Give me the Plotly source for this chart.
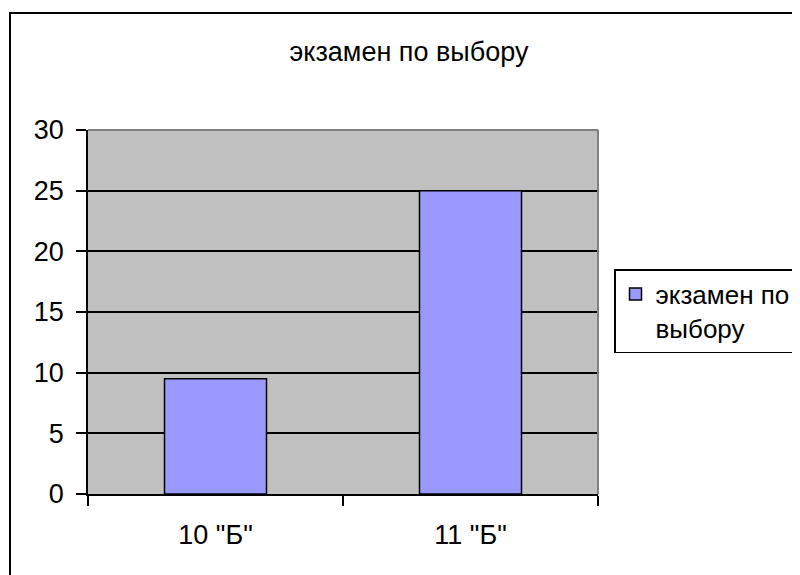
import plotly.graph_objects as go

categories = ['10 "Б"', '11 "Б"']
values = [9.5, 25]
series_name = "экзамен по<br>выбору"
title_text = "экзамен по выбору"
y_ticks = [0, 5, 10, 15, 20, 25, 30]

FONT = "Liberation Sans, Arial, sans-serif"
FS = 27
OFF = 8  # page offset of the figure inside the browser window

fig = go.Figure()
fig.add_trace(go.Bar(
    x=categories, y=values, name=series_name,
    marker=dict(color="#9999FF", line=dict(color="black", width=1.5)),
    width=0.4,
))

fig.update_layout(
    width=800, height=575,
    margin=dict(l=88 - OFF, r=800 - (598 - OFF), t=130 - OFF, b=575 - (494 - OFF)),
    paper_bgcolor="white", plot_bgcolor="#C0C0C0",
    font=dict(family=FONT, size=FS, color="black"),
    title=dict(text=title_text, x=(409 - OFF) / 800, xanchor="center",
               y=1 - (52 - OFF) / 575, yanchor="middle",
               font=dict(family=FONT, size=FS, color="black")),
    showlegend=True,
    legend=dict(x=(614 - OFF) / 800, xanchor="left", y=1 - (311 - OFF) / 575, yanchor="middle",
                xref="container", yref="container",
                bordercolor="black", borderwidth=1.5, bgcolor="white",
                font=dict(family=FONT, size=26), valign="top",
                itemwidth=30),
    bargap=0.6,
)
fig.update_yaxes(range=[0, 30], tickvals=y_ticks, showgrid=True, gridcolor="black", gridwidth=1.5,
                 showline=True, linecolor="black", linewidth=1.5, ticks="outside", ticklen=10,
                 tickcolor="black", tickwidth=1.5, zeroline=False, ticklabelstandoff=7,
                 fixedrange=True)
fig.update_xaxes(range=[-0.5, 1.5], tickson="boundaries", showline=True, linecolor="black",
                 linewidth=1.5, ticks="outside", ticklen=10, tickcolor="black", tickwidth=1.5,
                 showgrid=False, ticklabelstandoff=16, fixedrange=True)

# gray plot-area border on top and right
fig.add_shape(type="line", xref="paper", yref="paper", x0=0, x1=1, y0=1, y1=1,
              line=dict(color="#808080", width=2), layer="above")
fig.add_shape(type="line", xref="paper", yref="paper", x0=1, x1=1, y0=0, y1=1,
              line=dict(color="#808080", width=2), layer="above")
# outer chart border (right and bottom edges lie outside the picture)
fig.add_shape(type="rect", xref="paper", yref="paper",
              x0=-78/510, x1=1 + 260/510, y0=-120/364, y1=1 + 117/364,
              line=dict(color="black", width=2), layer="below")

fig.write_html("out.html")
